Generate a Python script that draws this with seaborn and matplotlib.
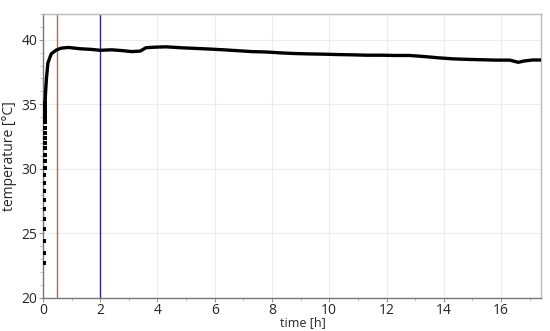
import matplotlib
matplotlib.use('Agg')
import matplotlib.pyplot as plt
from matplotlib.ticker import MultipleLocator
import seaborn as sns

# early samples (shown as separate dots)
rise_time = [0.036, 0.038, 0.040, 0.042, 0.044, 0.046, 0.048, 0.050, 0.052, 0.054,
             0.056, 0.058, 0.060, 0.062, 0.064, 0.066, 0.068, 0.070, 0.071, 0.072,
             0.073, 0.074, 0.075, 0.076]
rise_temp = [22.7, 23.5, 24.4, 25.3, 26.1, 26.9, 27.6, 28.3, 28.9, 29.5,
             30.1, 30.6, 31.1, 31.6, 32.0, 32.4, 32.8, 33.2, 33.6, 33.9,
             34.2, 34.5, 34.8, 35.1]

# dense part of the record
time_h = [0.076, 0.09, 0.12, 0.175, 0.29, 0.465, 0.64, 0.9, 1.3, 1.7, 2.0, 2.4, 2.8,
          3.1, 3.4, 3.6, 3.9, 4.3, 4.8, 5.3, 5.8, 6.3, 6.8, 7.3, 7.8, 8.3, 8.8,
          9.3, 9.8, 10.3, 10.8, 11.3, 11.8, 12.3, 12.8, 13.3, 13.8, 14.3, 14.8,
          15.3, 15.8, 16.3, 16.6, 16.8, 17.1, 17.4]
temp_c = [35.1, 35.8, 36.9, 38.2, 38.9, 39.2, 39.35, 39.4, 39.3, 39.25, 39.18, 39.22, 39.15,
          39.08, 39.12, 39.38, 39.42, 39.45, 39.38, 39.33, 39.28, 39.22, 39.15, 39.08, 39.05, 38.98, 38.93,
          38.9, 38.88, 38.85, 38.83, 38.8, 38.8, 38.78, 38.78, 38.7, 38.6, 38.52, 38.48,
          38.45, 38.42, 38.42, 38.25, 38.35, 38.43, 38.43]

markers_h = [0.5, 2.0]
marker_colors = ['#b86a3c', '#2b2b80']

sns.set_style('white')
plt.rcParams['font.family'] = ['Open Sans', 'DejaVu Sans']

fig = plt.figure(figsize=(5.5, 3.31), dpi=100)
ax = fig.add_axes([0.078, 0.10, 0.906, 0.858])

ax.grid(True, which='major', color='#ececec', lw=0.8)
ax.set_axisbelow(True)

for t, c in zip(markers_h, marker_colors):
    ax.axvline(t, color=c, lw=1.0, zorder=2)

sns.scatterplot(x=rise_time, y=rise_temp, color='black', marker='s', s=7,
                linewidth=0, ax=ax, zorder=3)
sns.lineplot(x=time_h, y=temp_c, color='black', lw=2.4, sort=False, ax=ax, zorder=3)

ax.set_xlim(0, 17.4)
ax.set_ylim(20, 42)
ax.xaxis.set_major_locator(MultipleLocator(2))
ax.xaxis.set_minor_locator(MultipleLocator(1))
ax.yaxis.set_major_locator(MultipleLocator(5))
ax.yaxis.set_minor_locator(MultipleLocator(1))
ax.tick_params(which='major', direction='out', length=3, color='#999999',
               labelsize=10, pad=1)
ax.tick_params(which='minor', direction='out', length=2, color='#bbbbbb')
ax.tick_params(axis='both', which='both', bottom=True, left=True)

for side in ['left', 'bottom']:
    ax.spines[side].set_color('#777777')
for side in ['top', 'right']:
    ax.spines[side].set_color('#bbbbbb')
for s in ax.spines.values():
    s.set_linewidth(1.0)

ax.set_xlabel('time [h]', fontsize=9)
ax.xaxis.set_label_coords(0.522, -0.063)
ax.set_ylabel('temperature [°C]', fontsize=10, labelpad=3)

fig.savefig('out.png', dpi=100)
